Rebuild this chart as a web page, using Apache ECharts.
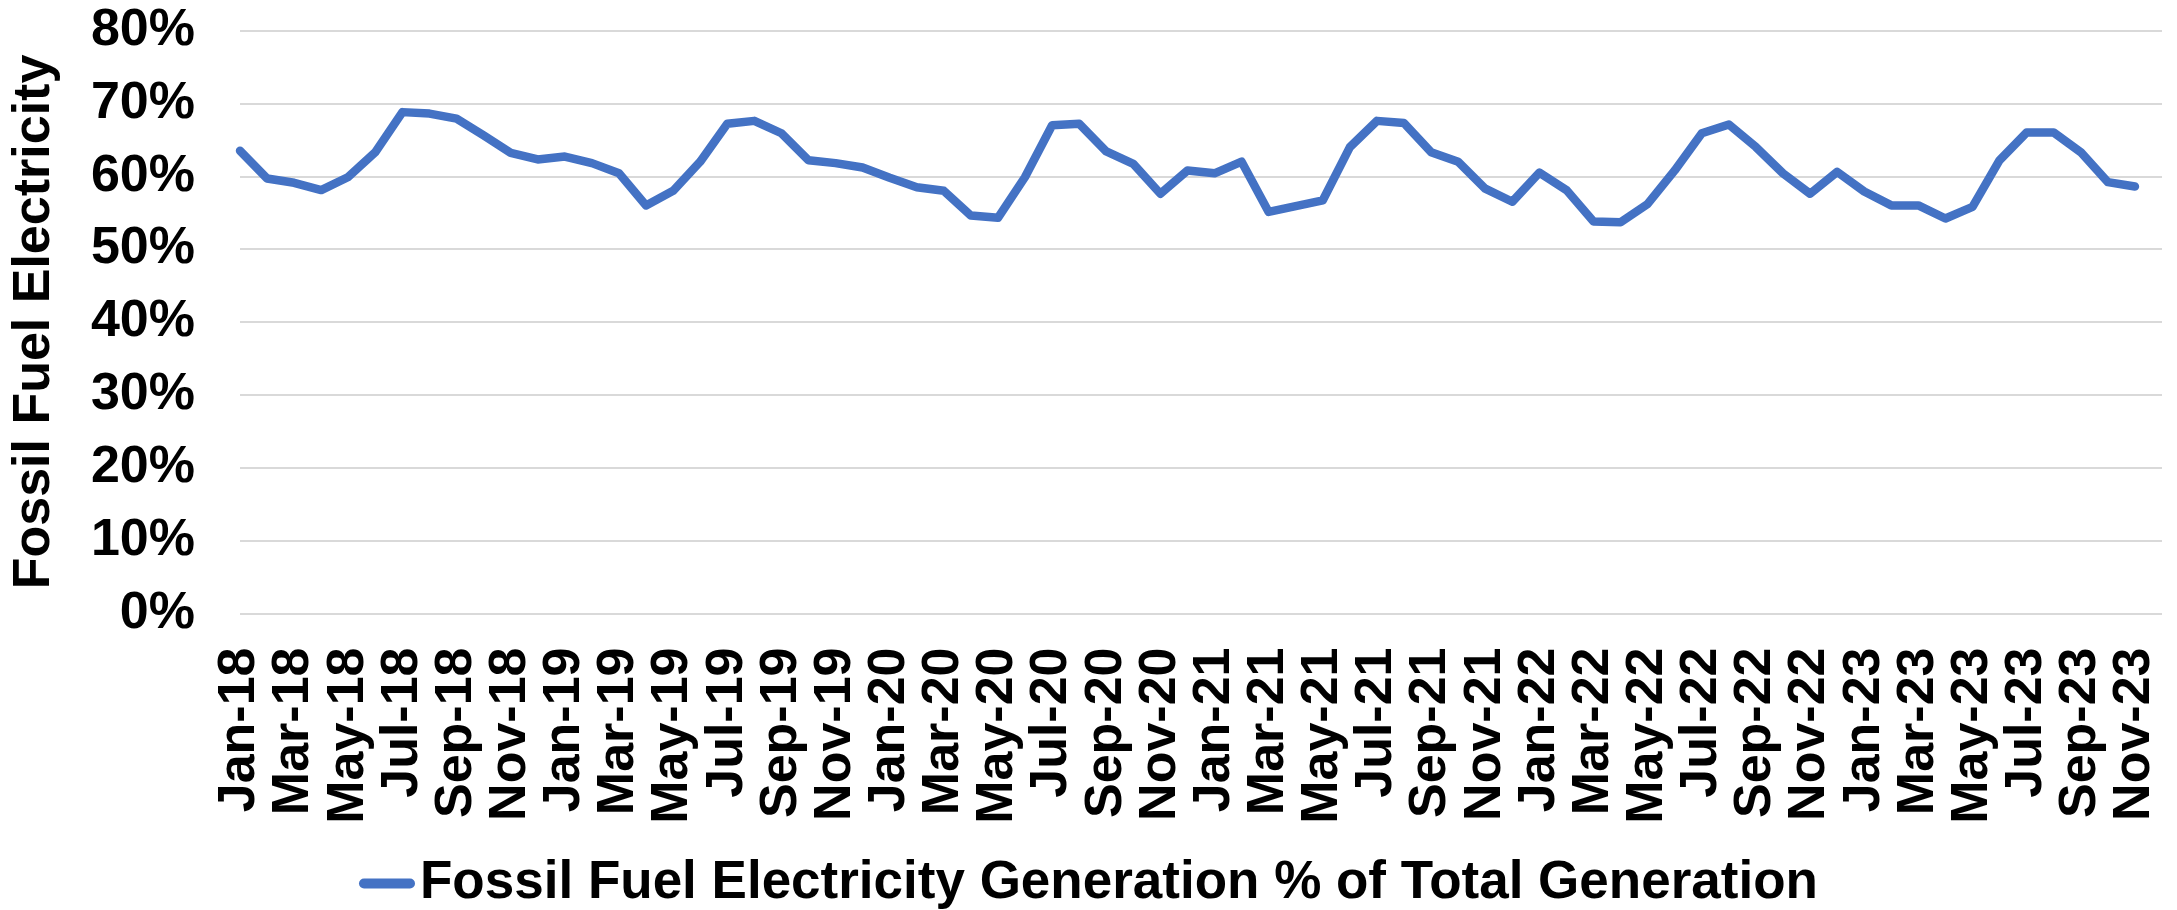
<!DOCTYPE html>
<html>
<head>
<meta charset="utf-8">
<title>Fossil Fuel Electricity Generation</title>
<script src="https://cdn.jsdelivr.net/npm/echarts@6/dist/echarts.min.js"></script>
<style>
  html, body { margin: 0; padding: 0; background: #ffffff; }
  #chart { width: 2177px; height: 910px; }
</style>
</head>
<body>
<div id="chart"></div>
<script>
// Monthly categories, Jan-18 to Dec-23 (Dec-23 has no value yet)
const months = [
  'Jan-18','Feb-18','Mar-18','Apr-18','May-18','Jun-18','Jul-18','Aug-18','Sep-18','Oct-18','Nov-18','Dec-18',
  'Jan-19','Feb-19','Mar-19','Apr-19','May-19','Jun-19','Jul-19','Aug-19','Sep-19','Oct-19','Nov-19','Dec-19',
  'Jan-20','Feb-20','Mar-20','Apr-20','May-20','Jun-20','Jul-20','Aug-20','Sep-20','Oct-20','Nov-20','Dec-20',
  'Jan-21','Feb-21','Mar-21','Apr-21','May-21','Jun-21','Jul-21','Aug-21','Sep-21','Oct-21','Nov-21','Dec-21',
  'Jan-22','Feb-22','Mar-22','Apr-22','May-22','Jun-22','Jul-22','Aug-22','Sep-22','Oct-22','Nov-22','Dec-22',
  'Jan-23','Feb-23','Mar-23','Apr-23','May-23','Jun-23','Jul-23','Aug-23','Sep-23','Oct-23','Nov-23','Dec-23'
];

// Fossil fuel share of total generation, percent
const fossilShare = [
  63.5, 59.7, 59.1, 58.1, 59.9, 63.3, 68.8, 68.6, 67.9, 65.6, 63.2, 62.3,
  62.7, 61.8, 60.4, 56.0, 58.0, 62.0, 67.2, 67.6, 65.9, 62.2, 61.8, 61.2,
  59.8, 58.5, 58.0, 54.6, 54.3, 59.9, 67.0, 67.2, 63.4, 61.7, 57.6, 60.8,
  60.4, 62.0, 55.1, 55.9, 56.7, 64.0, 67.6, 67.3, 63.3, 62.0, 58.3, 56.5,
  60.5, 58.1, 53.8, 53.7, 56.2, 60.8, 65.9, 67.1, 64.0, 60.4, 57.6, 60.6,
  57.9, 56.0, 56.0, 54.2, 55.8, 62.2, 66.0, 66.0, 63.3, 59.2, 58.6, null
];

const seriesName = 'Fossil Fuel Electricity Generation % of Total Generation';
const yAxisTitle = 'Fossil Fuel Electricity';

const FONT = '"Liberation Sans", Arial, Helvetica, sans-serif';
const BLUE = '#4472C4';
const GRID = '#D9D9D9';

const chart = echarts.init(document.getElementById('chart'), null, { renderer: 'canvas' });

chart.setOption({
  backgroundColor: '#ffffff',
  animation: false,
  grid: {
    left: 240,
    right: 15,
    top: 30.5,
    bottom: 296.5,
    containLabel: false
  },
  legend: {
    data: [seriesName],
    left: 354,
    top: 852,
    itemWidth: 56,
    itemHeight: 10,
    itemGap: 10,
    icon: 'path://M5,0 L51,0 A5,5 0 0 1 51,10 L5,10 A5,5 0 0 1 5,0 Z',
    itemStyle: { color: BLUE },
    textStyle: {
      fontFamily: FONT,
      fontWeight: 'bold',
      fontSize: 53,
      color: '#000000',
      padding: [0, 0, 0, 0]
    }
  },
  xAxis: {
    type: 'category',
    data: months,
    boundaryGap: false,
    axisLine: { show: false },
    axisTick: { show: false },
    splitLine: { show: false },
    axisLabel: {
      interval: 1,
      rotate: 90,
      margin: 34,
      fontFamily: FONT,
      fontWeight: 'bold',
      fontSize: 52,
      color: '#000000'
    }
  },
  yAxis: {
    type: 'value',
    min: 0,
    max: 80,
    interval: 10,
    name: yAxisTitle,
    nameLocation: 'middle',
    nameRotate: 90,
    nameGap: 179,
    nameTextStyle: {
      fontFamily: FONT,
      fontWeight: 'bold',
      fontSize: 52,
      color: '#000000'
    },
    axisLine: { show: false },
    axisTick: { show: false },
    splitLine: { show: true, lineStyle: { color: GRID, width: 2 } },
    axisLabel: {
      formatter: '{value}%',
      margin: 45,
      fontFamily: FONT,
      fontWeight: 'bold',
      fontSize: 52,
      color: '#000000'
    }
  },
  series: [{
    name: seriesName,
    type: 'line',
    data: fossilShare,
    symbol: 'none',
    connectNulls: false,
    lineStyle: { color: BLUE, width: 8.5, cap: 'round', join: 'round' },
    itemStyle: { color: BLUE }
  }]
});
</script>
</body>
</html>
